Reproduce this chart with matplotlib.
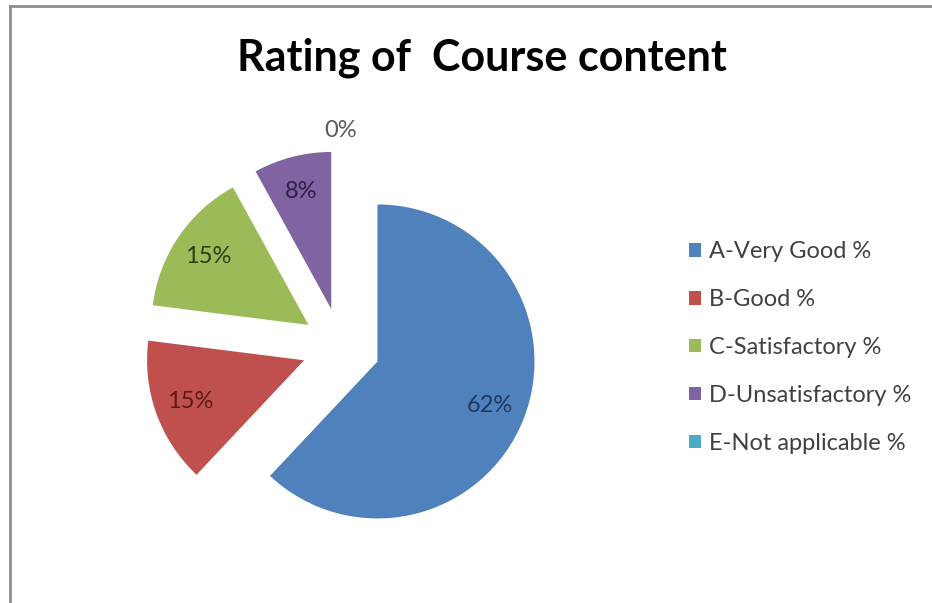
import matplotlib.pyplot as plt
from matplotlib.lines import Line2D
import numpy as np

categories = ['A-Very Good %', 'B-Good %', 'C-Satisfactory %', 'D-Unsatisfactory %', 'E-Not applicable %']
values = [62, 15, 15, 8, 0]
labels = ['62%', '15%', '15%', '8%', '0%']
colors = ['#4F81BD', '#C0504D', '#9BBB59', '#8064A2', '#4BACC6']
label_colors = ['#1F3A5F', '#5C1A18', '#2E3D14', '#2E2145', '#595959']

plt.rcParams['font.family'] = ['Lato', 'DejaVu Sans']

fig = plt.figure(figsize=(9.32, 6.03), dpi=100)

# chart frame (only top and left edges visible)
fig.add_artist(Line2D([9.5/932, 1], [1 - 6/603, 1 - 6/603], color='#8c8c8c', lw=2))
fig.add_artist(Line2D([9.5/932, 9.5/932], [0, 1 - 6/603], color='#8c8c8c', lw=2))

ax = fig.add_axes([105.5/932, 20.5/603, 471/932, 471/603])
wedges, texts = ax.pie(values, colors=colors, startangle=90, counterclock=False,
                       explode=[0.25] * len(values), radius=1.0,
                       wedgeprops=dict(linewidth=0))
ax.set_xlim(-1.5, 1.5)
ax.set_ylim(-1.5, 1.5)
ax.set_aspect('equal')
ax.axis('off')

# percentage labels, placed along each wedge bisector
for w, lab, c in zip(wedges, labels, label_colors):
    mid = np.deg2rad((w.theta1 + w.theta2) / 2)
    cx, cy = w.center
    dist = 0.77 if lab != '0%' else 1.13
    ax.text(cx + dist * np.cos(mid), cy + dist * np.sin(mid), lab,
            ha='center', va='center', fontsize=17, color=c)

fig.text(482/932, 1 - 58/603, 'Rating of  Course content', ha='center', va='center',
         fontsize=31, fontweight='bold', color='black')

fig.legend(wedges, categories, loc='upper left', bbox_to_anchor=(668/932, 1 - 220/603),
           frameon=False, fontsize=17, handlelength=0.5, handleheight=0.5,
           handletextpad=0.35, labelspacing=1.14, labelcolor='#404040')

fig.savefig('out.png', dpi=100)
